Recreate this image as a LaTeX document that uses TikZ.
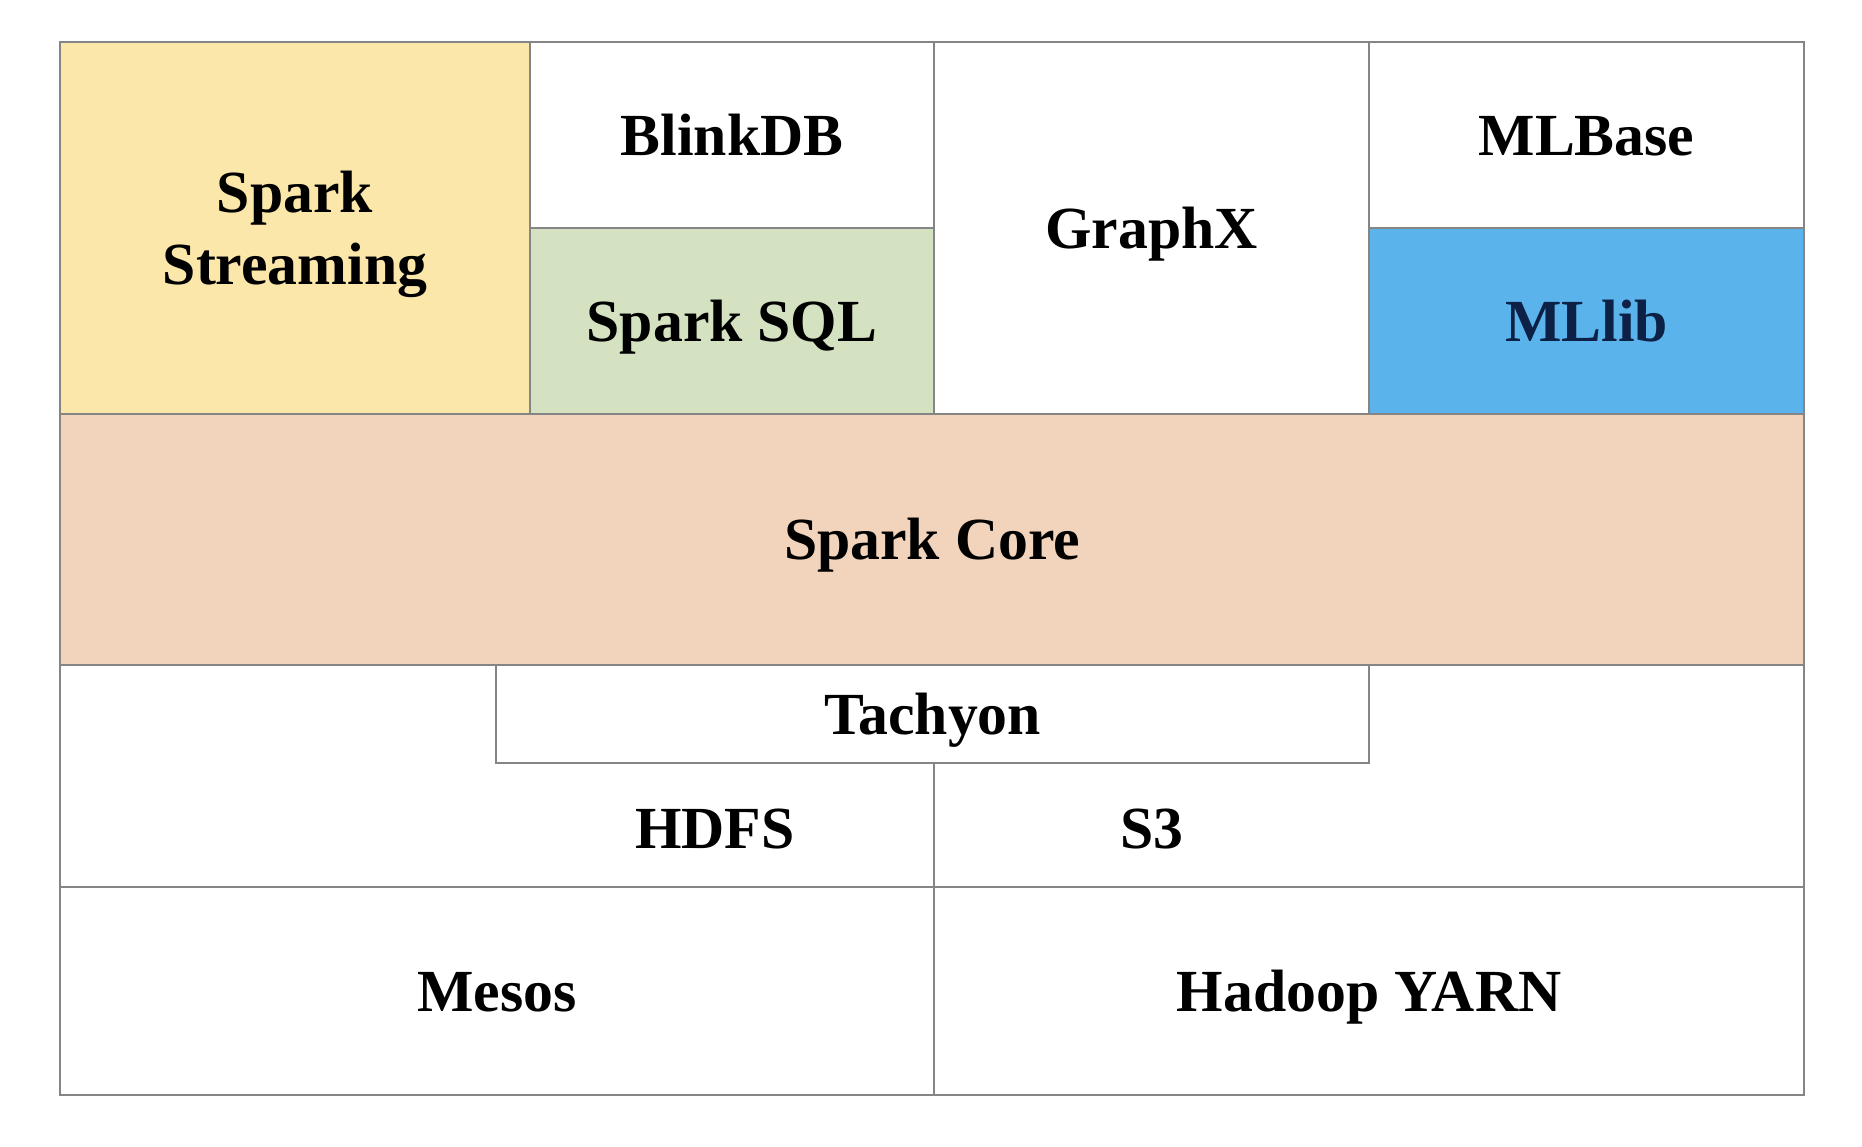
\documentclass[tikz,border=0pt]{standalone}
\usepackage{fontspec}
\setmainfont{Liberation Serif}
\definecolor{streamyellow}{HTML}{FBE7A9}
\definecolor{sqlgreen}{HTML}{D4E2C1}
\definecolor{corepeach}{HTML}{F2D3BB}
\definecolor{mlblue}{HTML}{5BB3EC}
\definecolor{linegray}{HTML}{858585}
\definecolor{navy}{HTML}{0C2145}

\begin{document}
\begin{tikzpicture}
[every node/.style={font=\fontsize{17}{20.5}\selectfont\bfseries,text depth=0pt},
 oneline/.style={text height=11.5pt},
 layer/.style={rectangle,draw=linegray,line width=0.6pt,inner sep=0pt,outer sep=0pt,anchor=north west,align=center}]
\useasboundingbox (0,0) rectangle (18.62,11.46);
\node[layer,fill=streamyellow,minimum width=4.7cm,minimum height=3.72cm] (stream) at (0.6,11.04) {Spark\\Streaming};
\node[layer,oneline,minimum width=4.04cm,minimum height=1.86cm] (blink) at (stream.north east) {BlinkDB};
\node[layer,oneline,fill=sqlgreen,minimum width=4.04cm,minimum height=1.86cm] (sql) at (blink.south west) {Spark SQL};
\node[layer,oneline,minimum width=4.35cm,minimum height=3.72cm] (graphx) at (blink.north east) {GraphX};
\node[layer,oneline,minimum width=4.35cm,minimum height=1.86cm] (mlbase) at (graphx.north east) {MLBase};
\node[layer,oneline,fill=mlblue,text=navy,minimum width=4.35cm,minimum height=1.86cm] (mllib) at (mlbase.south west) {MLlib};
\node[layer,oneline,fill=corepeach,minimum width=17.44cm,minimum height=2.51cm] (core) at (stream.south west) {Spark Core};
\node[layer,minimum width=17.44cm,minimum height=2.22cm] (storage) at (core.south west) {};
\node[layer,oneline,anchor=north east,minimum width=8.73cm,minimum height=0.98cm] (tachyon) at (mllib.west |- core.south) {Tachyon};
\node[oneline] (hdfs) at (7.15,3.18) {HDFS};
\node[oneline] (s3) at (11.52,3.18) {S3};
\node[layer,oneline,minimum width=8.74cm,minimum height=2.08cm] (mesos) at (storage.south west) {Mesos};
\node[layer,oneline,minimum width=8.7cm,minimum height=2.08cm] (yarn) at (mesos.north east) {Hadoop YARN};
\draw[draw=linegray,line width=0.6pt] (tachyon.south -| mesos.east) -- (mesos.north east);
\end{tikzpicture}
\end{document}
